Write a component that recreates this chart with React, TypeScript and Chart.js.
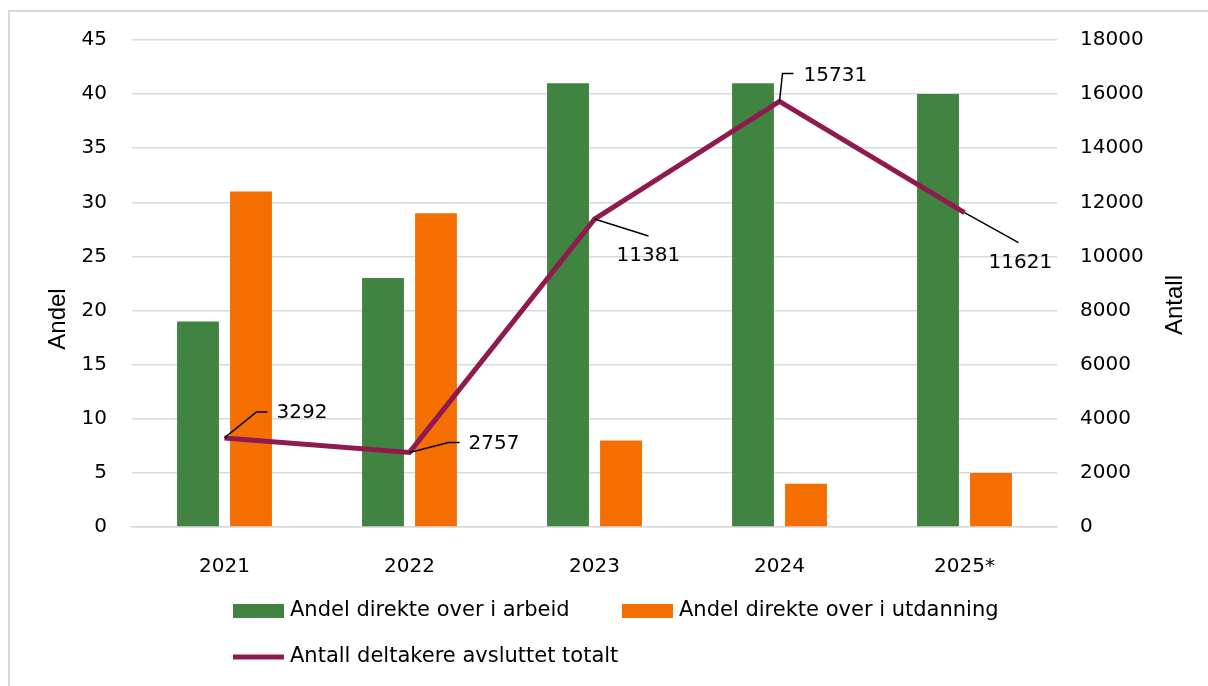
import React, { useEffect, useRef } from "react";
import { Chart, registerables } from "chart.js";

Chart.register(...registerables);

// ---- data ----
const categories: string[] = ["2021", "2022", "2023", "2024", "2025*"];
const andelArbeid: number[] = [19, 23, 41, 41, 40];
const andelUtdanning: number[] = [31, 29, 8, 4, 5];
const antallTotalt: number[] = [3292, 2757, 11381, 15731, 11621];
const seriesNames: string[] = [
  "Andel direkte over i arbeid",
  "Andel direkte over i utdanning",
  "Antall deltakere avsluttet totalt",
];
const leftAxisTitle = "Andel";
const rightAxisTitle = "Antall";
const leftMax = 45;
const leftStep = 5;
const rightMax = 18000;
const rightStep = 2000;

// ---- styles ----
const GREEN = "#418441";
const ORANGE = "#F46F00";
const MAROON = "#901A50";
const GRID = "#D9D9D9";
const TEXT = "#000000";
const FONT = "'DejaVu Sans', sans-serif";
const TITLE_FONT = "'Liberation Sans', Arial, sans-serif";

// leader-line layout for data labels, relative to point pixel
const labelLayout = [
  { elbow: [32, -26], end: [43, -26], text: [52, -25] },
  { elbow: [39, -10], end: [50, -10], text: [59, -9] },
  { elbow: [54, 17], end: null, text: [22, 37] },
  { elbow: [3, -28], end: [14, -28], text: [24, -26] },
  { elbow: [54, 30], end: null, text: [24, 50] },
];

const framePlugin = {
  id: "frame",
  beforeDraw(chart: any) {
    const ctx = chart.ctx;
    ctx.save();
    ctx.fillStyle = "#ffffff";
    ctx.fillRect(0, 0, chart.width, chart.height);
    ctx.strokeStyle = GRID;
    ctx.lineWidth = 2;
    ctx.beginPath();
    ctx.moveTo(9, chart.height + 5);
    ctx.lineTo(9, 11);
    ctx.lineTo(chart.width + 5, 11);
    ctx.stroke();
    ctx.restore();
  },
};

const labelsPlugin = {
  id: "lineLabels",
  afterDatasetsDraw(chart: any) {
    const meta = chart.getDatasetMeta(2);
    const ctx = chart.ctx;
    ctx.save();
    ctx.strokeStyle = "#000";
    ctx.lineWidth = 1.5;
    ctx.fillStyle = TEXT;
    ctx.font = `20px ${FONT}`;
    ctx.textAlign = "left";
    ctx.textBaseline = "middle";
    meta.data.forEach((pt: any, i: number) => {
      const L = labelLayout[i];
      const x = pt.x;
      const y = pt.y;
      ctx.beginPath();
      ctx.moveTo(x, y);
      ctx.lineTo(x + L.elbow[0], y + L.elbow[1]);
      if (L.end) ctx.lineTo(x + L.end[0], y + L.end[1]);
      ctx.stroke();
      ctx.fillText(String(antallTotalt[i]), x + L.text[0], y + L.text[1]);
    });
    ctx.restore();
  },
  afterDraw(chart: any) {
    const ctx = chart.ctx;
    ctx.save();
    // axis titles
    ctx.fillStyle = TEXT;
    ctx.font = `24px ${TITLE_FONT}`;
    ctx.textAlign = "center";
    ctx.textBaseline = "middle";
    ctx.translate(58, 319);
    ctx.rotate(-Math.PI / 2);
    ctx.fillText(leftAxisTitle, 0, 0);
    ctx.restore();
    ctx.save();
    ctx.fillStyle = TEXT;
    ctx.font = `24px ${TITLE_FONT}`;
    ctx.textAlign = "center";
    ctx.textBaseline = "middle";
    ctx.translate(1175, 305);
    ctx.rotate(-Math.PI / 2);
    ctx.fillText(rightAxisTitle, 0, 0);
    ctx.restore();

    // legend
    ctx.save();
    ctx.font = `21px ${FONT}`;
    ctx.textAlign = "left";
    ctx.textBaseline = "middle";
    ctx.fillStyle = GREEN;
    ctx.fillRect(233, 604, 51, 14);
    ctx.fillStyle = TEXT;
    ctx.fillText(seriesNames[0], 290, 611);
    ctx.fillStyle = ORANGE;
    ctx.fillRect(622, 604, 51, 14);
    ctx.fillStyle = TEXT;
    ctx.fillText(seriesNames[1], 679, 611);
    ctx.strokeStyle = MAROON;
    ctx.lineWidth = 5;
    ctx.beginPath();
    ctx.moveTo(233, 657);
    ctx.lineTo(284, 657);
    ctx.stroke();
    ctx.fillStyle = TEXT;
    ctx.fillText(seriesNames[2], 290, 657);
    ctx.restore();
  },
};

export default function App() {
  const ref = useRef<HTMLCanvasElement | null>(null);
  useEffect(() => {
    if (!ref.current) return;
    const tickFont = { family: FONT, size: 20 };
    const chart = new Chart(ref.current, {
      type: "bar",
      data: {
        labels: categories,
        datasets: [
          {
            type: "bar",
            label: seriesNames[0],
            data: andelArbeid,
            backgroundColor: GREEN,
            yAxisID: "y",
            order: 2,
            categoryPercentage: 0.573,
            barPercentage: 0.79,
          },
          {
            type: "bar",
            label: seriesNames[1],
            data: andelUtdanning,
            backgroundColor: ORANGE,
            yAxisID: "y",
            order: 2,
            categoryPercentage: 0.573,
            barPercentage: 0.79,
          },
          {
            type: "line",
            label: seriesNames[2],
            data: antallTotalt,
            borderColor: MAROON,
            backgroundColor: MAROON,
            borderWidth: 5,
            pointRadius: 0,
            tension: 0,
            yAxisID: "y1",
            order: 0,
          } as any,
        ],
      },
      options: {
        responsive: false,
        animation: false,
        layout: { padding: { top: 40, left: 0, right: 0, bottom: 0 } },
        plugins: {
          legend: { display: false },
          tooltip: { enabled: false },
        },
        scales: {
          x: {
            grid: { display: false },
            border: { display: true, color: GRID, width: 1.5 },
            ticks: { font: tickFont, color: TEXT, padding: 20 },
            afterFit: (s: any) => {
              s.height = 159;
            },
          },
          y: {
            position: "left",
            min: 0,
            max: leftMax,
            ticks: {
              stepSize: leftStep,
              font: tickFont,
              color: TEXT,
              padding: 25,
              callback: (v: any) => String(v),
            },
            grid: { color: GRID, lineWidth: 1.5, drawTicks: false },
            border: { display: false },
            afterFit: (s: any) => {
              s.width = 132;
            },
          },
          y1: {
            position: "right",
            min: 0,
            max: rightMax,
            ticks: {
              stepSize: rightStep,
              font: tickFont,
              color: TEXT,
              padding: 23,
              callback: (v: any) => String(v),
            },
            grid: { display: false, drawTicks: false },
            border: { display: false },
            afterFit: (s: any) => {
              s.width = 151;
            },
          },
        },
      } as any,
      plugins: [framePlugin, labelsPlugin],
    });
    return () => chart.destroy();
  }, []);
  return (
    <div style={{ position: "fixed", left: 0, top: 0, width: 1208, height: 686, overflow: "hidden", background: "#fff" }}>
      <canvas ref={ref} width={1208} height={686} style={{ display: "block" }} />
    </div>
  );
}
